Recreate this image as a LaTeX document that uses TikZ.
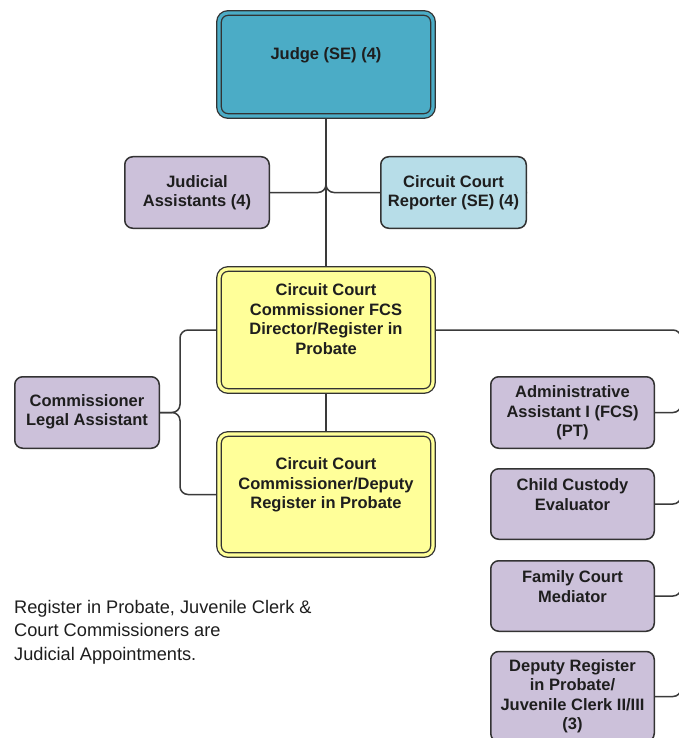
\documentclass[tikz,border=0pt]{standalone}
\usepackage{fontspec}
\setmainfont{Liberation Sans}
\usetikzlibrary{backgrounds}
\definecolor{judgefill}{HTML}{4BACC6}
\definecolor{reporterfill}{HTML}{B7DDE8}
\definecolor{lav}{HTML}{CCC1DA}
\definecolor{commfill}{HTML}{FFFF99}
\definecolor{boxline}{HTML}{333333}
\definecolor{connline}{HTML}{3A3A3A}
\definecolor{txtcol}{HTML}{1E1E1E}
\begin{document}
\begin{tikzpicture}[x=1pt,y=-1pt,
  box/.style={draw=boxline, line width=1.5pt, rounded corners=8pt, inner sep=0pt},
  lavbox/.style={box, fill=lav},
  dblbox/.style={draw=boxline, line width=1.3pt, double distance=3.2pt, rounded corners=9pt, inner sep=0pt},
  txt/.style={align=center, font=\fontsize{16.5}{19.5}\selectfont\bfseries, text=txtcol, inner sep=0pt},
  note/.style={align=left, font=\fontsize{18.2}{23.5}\selectfont, text=txtcol, inner sep=0pt},
  conn/.style={draw=connline, line width=1.5pt, rounded corners=8pt}]
\useasboundingbox (0,0) rectangle (678,738);
\clip (0,0) rectangle (678,738);

% top of the chart
\node[dblbox, fill=judgefill, double=judgefill, minimum width=214pt, minimum height=103pt] (judge) at (326,64.5) {};
\node[txt] (judget) at (326,55) {Judge (SE) (4)};

\node[lavbox, minimum width=144.5pt, minimum height=71.5pt] (ja) at (197,192.5) {};
\node[txt] (jat) at (197,192.5) {Judicial\\Assistants (4)};

\node[box, fill=reporterfill, minimum width=145.5pt, minimum height=71.5pt] (rep) at (453.5,192.5) {};
\node[txt] (rept) at (453.5,192.5) {Circuit Court\\Reporter (SE) (4)};

% commissioners
\node[dblbox, fill=commfill, double=commfill, minimum width=214pt, minimum height=122pt] (fcs) at (326,330) {};
\node[txt] (fcst) at (326,319) {Circuit Court\\Commissioner FCS\\Director/Register in\\Probate};

\node[dblbox, fill=commfill, double=commfill, minimum width=214pt, minimum height=121pt] (dep) at (326,494.5) {};
\node[txt] (dept) at (326,485) {Circuit Court\\Commissioner/Deputy\\Register in Probate};

\node[lavbox, minimum width=144.5pt, minimum height=71.5pt] (cla) at (87,412.5) {};
\node[txt] (clat) at (87,412) {Commissioner\\Legal Assistant};

% staff column on the right
\node[lavbox, minimum width=163.5pt, minimum height=71.5pt] (adm) at (572.5,412.5) {};
\node[txt] (admt) at (572.5,413) {Administrative\\Assistant I (FCS)\\(PT)};

\node[lavbox, minimum width=163.5pt, minimum height=70.5pt] (ccv) at (572.5,504) {};
\node[txt] (ccvt) at (572.5,494.5) {Child Custody\\Evaluator};

\node[lavbox, minimum width=163.5pt, minimum height=70.5pt] (fcm) at (572.5,596) {};
\node[txt] (fcmt) at (572.5,586.5) {Family Court\\Mediator};

\node[lavbox, minimum width=163.5pt, minimum height=90pt] (drp) at (572.5,696.5) {};
\node[txt] (drpt) at (572.5,696) {Deputy Register\\in Probate/\\Juvenile Clerk II/III\\(3)};

% footnote
\node[note, anchor=west] (notet) at (14,632) {Register in Probate, Juvenile Clerk \&\\Court Commissioners are\\Judicial Appointments.};

% connector bends
\coordinate (clabus) at (180,412.5);
\coordinate (rbus) at (681,330);
\coordinate (rbusend) at (681,760);

\begin{pgfonlayer}{background}
  \fill[white] (0,0) rectangle (678,738);
  \draw[conn] (judge.south) |- (ja.east);
  \draw[conn] (judge.south) |- (rep.east);
  \draw[conn] (judge.south) -- (fcs.north);
  \draw[conn] (fcs.south) -- (dep.north);
  \draw[conn] (cla.east) -- (clabus) |- (fcs.west);
  \draw[conn] (cla.east) -- (clabus) |- (dep.west);
  \draw[conn] (fcs.east) -| (rbusend);
  \draw[conn] (adm.east) -| (rbus);
  \draw[conn] (ccv.east) -| (rbus);
  \draw[conn] (fcm.east) -| (rbus);
  \draw[conn] (drp.east) -| (rbus);
\end{pgfonlayer}
\end{tikzpicture}
\end{document}
